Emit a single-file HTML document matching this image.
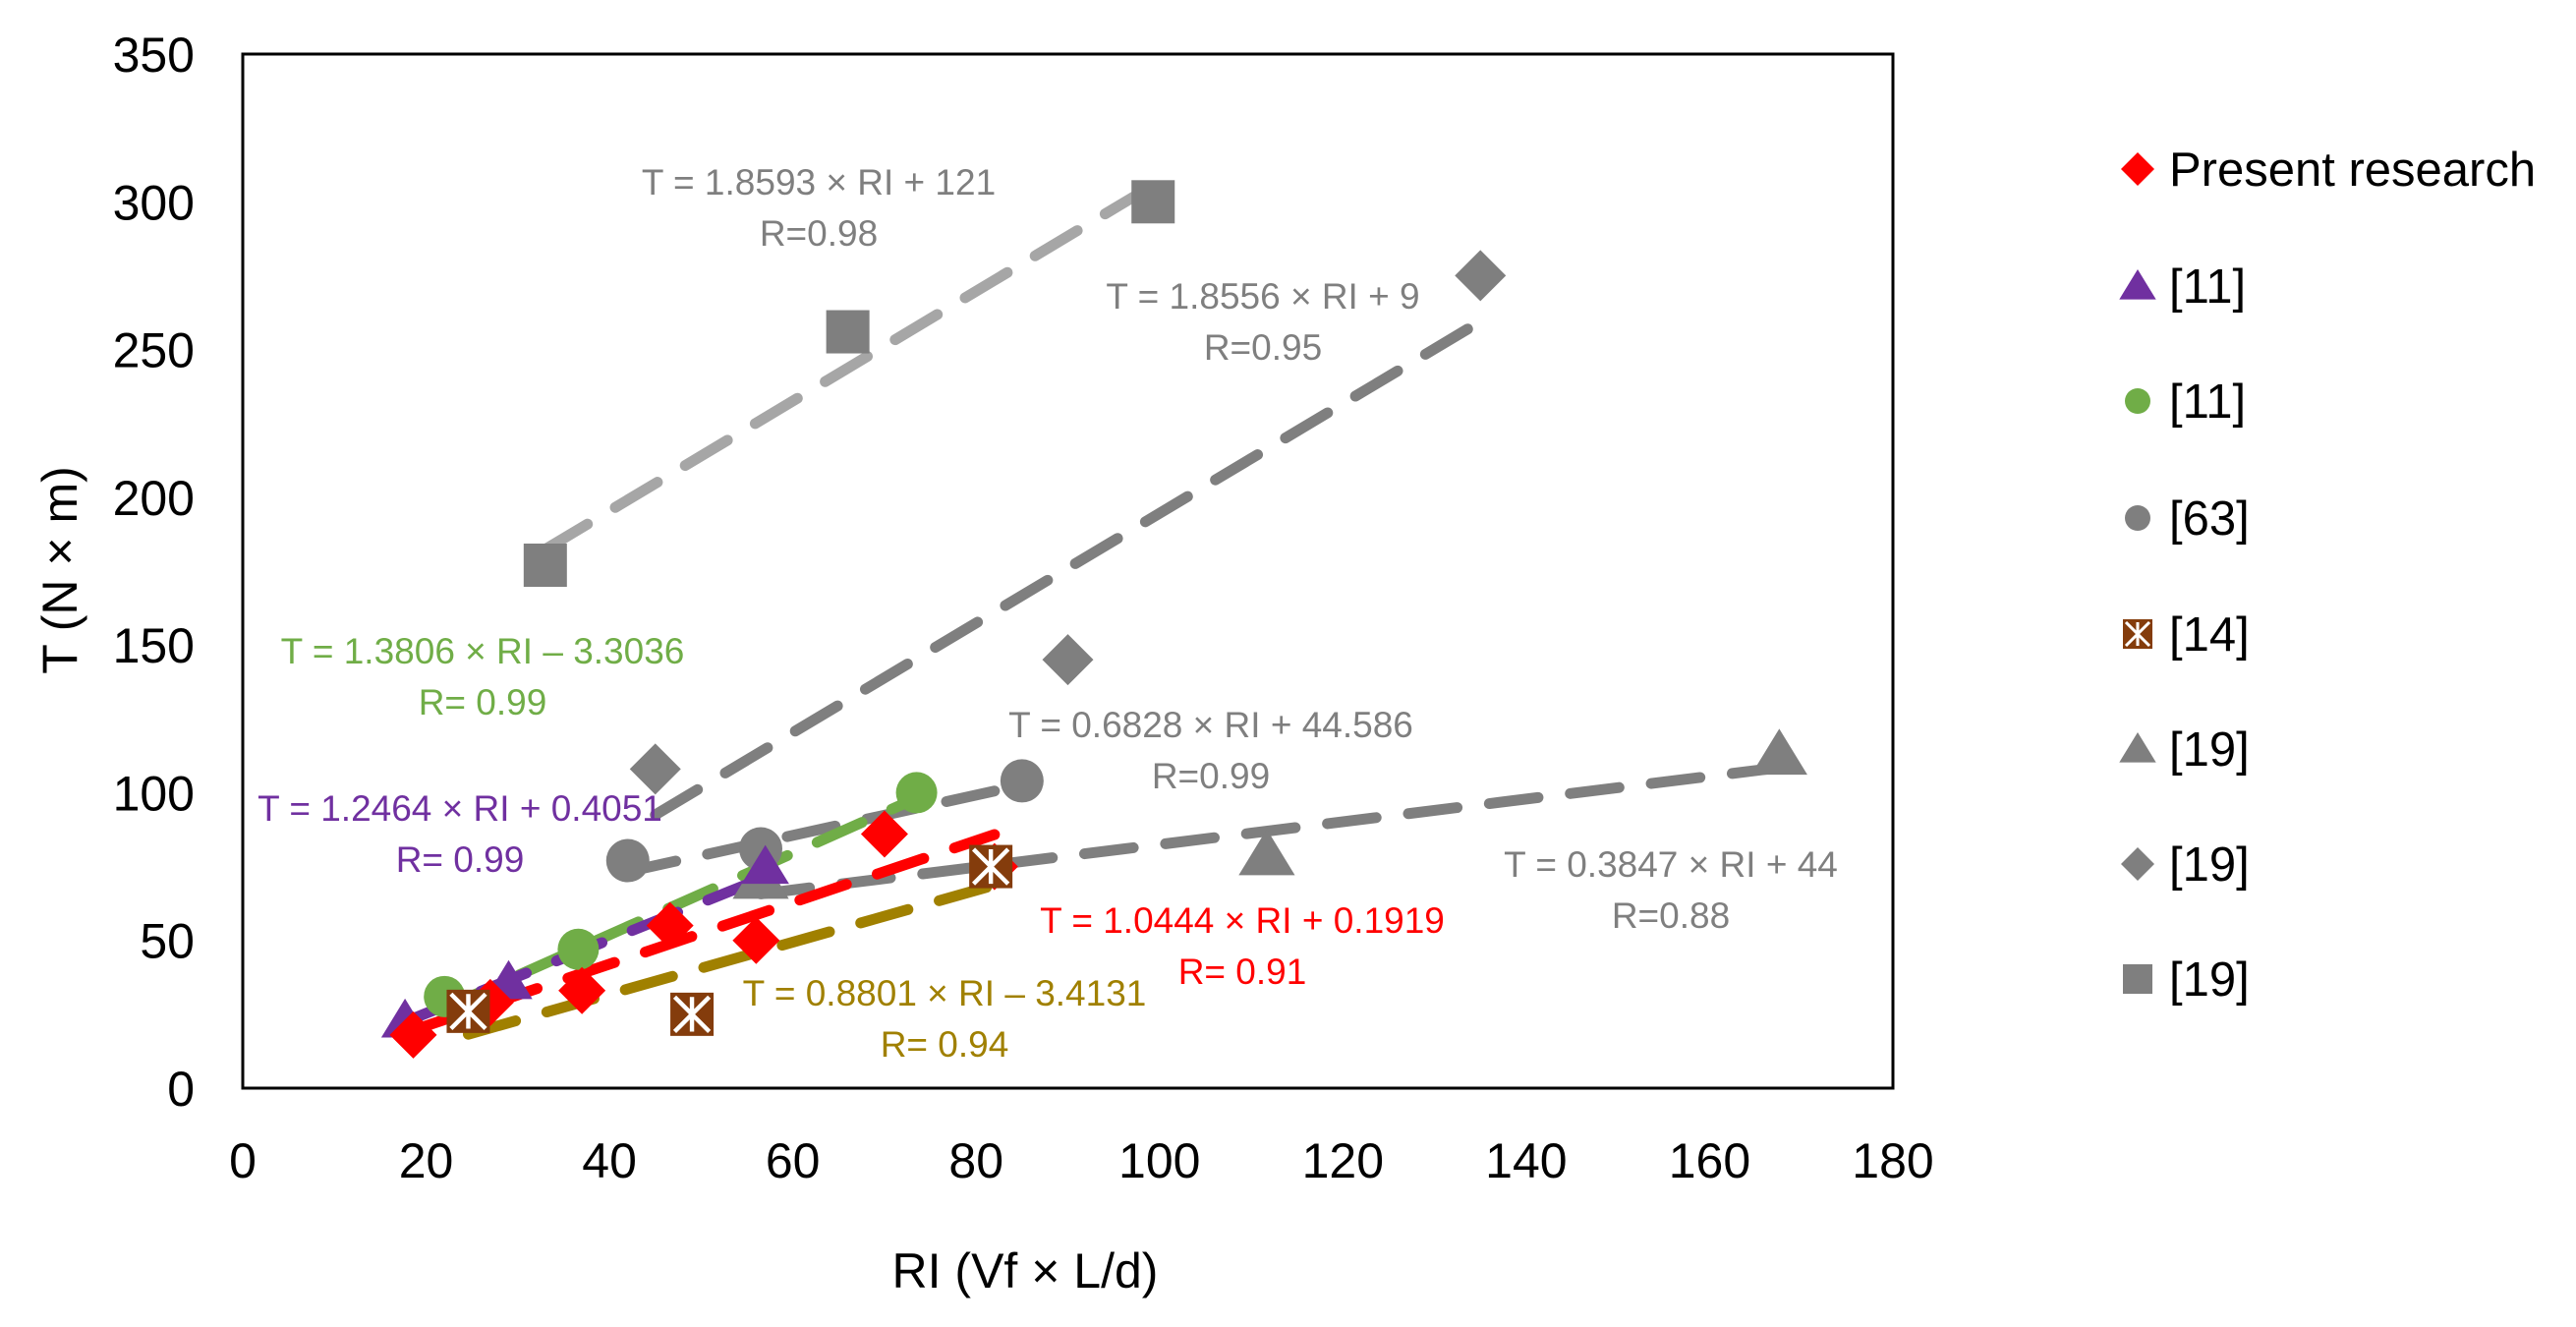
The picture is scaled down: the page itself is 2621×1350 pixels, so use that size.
<!DOCTYPE html>
<html><head><meta charset="utf-8"><style>
html,body{margin:0;padding:0;background:#fff}
svg{display:block;font-family:"Liberation Sans",sans-serif}
</style></head><body>
<svg id="chart" width="2621" height="1350" viewBox="0 0 2621 1350">
<rect x="0" y="0" width="2621" height="1350" fill="#fff"/>
<g id="lines"></g><g id="marks"></g><g id="axes"></g><g id="notes"></g><g id="legend"></g>
</svg>
<script>
const xTicks=[0,20,40,60,80,100,120,140,160,180];
const yTicks=[0,50,100,150,200,250,300,350];
const presentX=[18.6,27,37,46.6,56,70,82], presentY=[18,29,33,55,50,86,75];
const p11X=[17.7,29,57], p11Y=[23,36,75];
const g11X=[22,36.6,73.5], g11Y=[31,47,100];
const c63X=[42,56.5,85], c63Y=[77,81,104];
const b14X=[24.6,49,81.6], b14Y=[26,25,75];
const t19X=[56.5,111.7,167.6], t19Y=[71,79,113];
const d19X=[45,90,135], d19Y=[108,145,275];
const s19X=[33,66,99.3], s19Y=[177,256,300];
const trendSlope=[1.8593,1.8556,0.6828,0.3847,1.3806,1.2464,1.0444,0.8801];
const trendIntercept=[121,9,44.586,44,-3.3036,0.4051,0.1919,-3.4131];
const trendFrom=[33,45,42,56.5,22,17.7,18.6,24.6];
const trendTo=[99.3,135,85,167.6,73.5,57,82,81.6];
const trendColor=['#a6a6a6','#7f7f7f','#7f7f7f','#7f7f7f','#70ad47','#7030a0','#ff0000','#a08000'];
const trendName=['trend-19-squares','trend-19-diamonds','trend-63','trend-19-triangles','trend-11-green','trend-11-purple','trend-present','trend-14'];

const L=247,R=1926,T=55,B=1107;
const sx=v=>L+(v-0)/(180-0)*(R-L);
const sy=v=>B-(v-0)/(350-0)*(B-T);
const NS='http://www.w3.org/2000/svg';
function mk(tag,parent,attrs){const e=document.createElementNS(NS,tag);for(const k in attrs)e.setAttribute(k,attrs[k]);parent.appendChild(e);return e;}
const gL=document.getElementById('lines'),gM=document.getElementById('marks'),gA=document.getElementById('axes'),gN=document.getElementById('notes'),gLeg=document.getElementById('legend');

const frame=mk('rect',gA,{x:L,y:T,width:R-L,height:B-T,fill:'none',stroke:'#000','stroke-width':3});


xTicks.forEach(v=>{const t=mk('text',gA,{x:sx(v),y:1198,'text-anchor':'middle','font-size':50,fill:'#000'});t.textContent=v;

});
yTicks.forEach(v=>{const t=mk('text',gA,{x:198,y:sy(v)+18,'text-anchor':'end','font-size':50,fill:'#000'});t.textContent=v;

});
const xt=mk('text',gA,{x:1043,y:1310,'text-anchor':'middle','font-size':50,fill:'#000'});xt.textContent='RI (Vf × L/d)';


const yt=mk('text',gA,{x:0,y:0,'text-anchor':'middle','font-size':50,fill:'#000',transform:'translate(78,580) rotate(-90)'});yt.textContent='T (N × m)';



trendSlope.forEach((m,i)=>{const a=trendFrom[i],b=trendTo[i];
const l=mk('line',gL,{x1:sx(a),y1:sy(m*a+trendIntercept[i]),x2:sx(b),y2:sy(m*b+trendIntercept[i]),stroke:trendColor[i],'stroke-width':11,'stroke-dasharray':'50 33','stroke-linecap':'round'});

});

function marker(g,shape,cx,cy,color,s){
 let e;
 if(shape==='diamond')e=mk('path',g,{d:`M${cx} ${cy-s}L${cx+s} ${cy}L${cx} ${cy+s}L${cx-s} ${cy}Z`,fill:color});
 else if(shape==='tri')e=mk('path',g,{d:`M${cx} ${cy-s}L${cx+s*1.1} ${cy+s*0.8}L${cx-s*1.1} ${cy+s*0.8}Z`,fill:color});
 else if(shape==='circle')e=mk('circle',g,{cx:cx,cy:cy,r:s,fill:color});
 else if(shape==='square')e=mk('rect',g,{x:cx-s,y:cy-s,width:2*s,height:2*s,fill:color});
 else if(shape==='box'){e=mk('g',g,{});mk('rect',e,{x:cx-s,y:cy-s,width:2*s,height:2*s,fill:'#843c0c'});
  mk('path',e,{d:`M${cx-s*0.8} ${cy-s*0.8}L${cx+s*0.8} ${cy+s*0.8}M${cx+s*0.8} ${cy-s*0.8}L${cx-s*0.8} ${cy+s*0.8}M${cx} ${cy-s*0.8}L${cx} ${cy+s*0.8}`,stroke:'#fff','stroke-width':s*0.2});}
 return e;}
const series=[
 [d19X,d19Y,'diamond','#7f7f7f',26,'series-19-diamond-point'],
 [s19X,s19Y,'square','#7f7f7f',22,'series-19-square-point'],
 [t19X,t19Y,'tri','#7f7f7f',26,'series-19-triangle-point'],
 [c63X,c63Y,'circle','#7f7f7f',22,'series-63-point'],
 [g11X,g11Y,'circle','#70ad47',21,'series-11-green-point'],
 [p11X,p11Y,'tri','#7030a0',22,'series-11-purple-point'],
 [presentX,presentY,'diamond','#ff0000',24,'present-research-point'],
 [b14X,b14Y,'box','#843c0c',22,'series-14-point']];
series.forEach(s=>{s[0].forEach((x,i)=>{const e=marker(gM,s[2],sx(x),sy(s[1][i]),s[3],s[4]);

});});

const notes=[
 ['T = 1.8593 × RI + 121','R=0.98',833,185,'#7f7f7f'],
 ['T = 1.8556 × RI + 9','R=0.95',1285,301,'#7f7f7f'],
 ['T = 1.3806 × RI  – 3.3036','R= 0.99',491,662,'#70ad47'],
 ['T = 1.2464 × RI + 0.4051','R= 0.99',468,822,'#7030a0'],
 ['T = 0.6828 × RI + 44.586','R=0.99',1232,737,'#7f7f7f'],
 ['T = 0.3847 × RI + 44','R=0.88',1700,879,'#7f7f7f'],
 ['T = 1.0444 × RI  + 0.1919','R= 0.91',1264,936,'#ff0000'],
 ['T = 0.8801 × RI – 3.4131','R= 0.94',961,1010,'#a08000']];
notes.forEach(n=>{[n[0],n[1]].forEach((s,j)=>{const t=mk('text',gN,{x:n[2],y:n[3]+j*52+13,'text-anchor':'middle','font-size':37,fill:n[4]});t.textContent=s;

});});

const legItems=[['diamond','#ff0000','Present research'],['tri','#7030a0','[11]'],['circle','#70ad47','[11]'],['circle','#7f7f7f','[63]'],['box','','[14]'],['tri','#7f7f7f','[19]'],['diamond','#7f7f7f','[19]'],['square','#7f7f7f','[19]']];
const legY=[172,291,408,527,645,762,879,996];
legItems.forEach((it,i)=>{const g=mk('g',gLeg,{});


marker(g,it[0],2175,legY[i],it[1],it[0]==='circle'?13:(it[0]==='square'||it[0]==='box'?15:17));
const t=mk('text',g,{x:2207,y:legY[i]+17,'font-size':49,fill:'#000'});t.textContent=it[2];});
</script>
</body></html>
